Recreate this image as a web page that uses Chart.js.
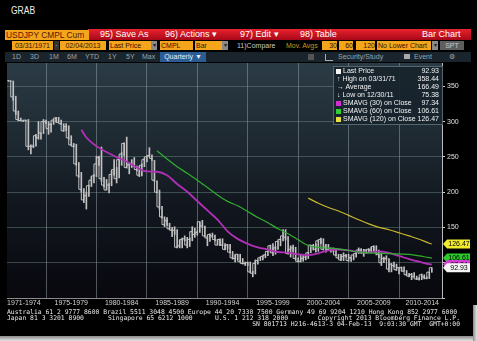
<!DOCTYPE html>
<html><head><meta charset="utf-8">
<script src="https://cdn.jsdelivr.net/npm/chart.js@4.4.1/dist/chart.umd.min.js"></script>
<style>
html,body{margin:0;padding:0;background:#000;width:477px;height:341px;overflow:hidden;}
#wrap{position:relative;width:477px;height:341px;background:#000;font-family:'Liberation Sans',Arial,sans-serif;overflow:hidden;}
.a{position:absolute;white-space:nowrap;}
.ob{position:absolute;top:41px;background:#f5a51c;color:#3a1000;font-size:7px;line-height:9px;height:9px;text-align:center;white-space:nowrap;overflow:hidden;}
.gb{position:absolute;top:41px;background:#8a8a8a;color:#222;font-size:6px;line-height:9px;height:9px;text-align:center;}
.rt{position:absolute;color:#fff;font-size:9px;line-height:11px;top:29px;white-space:nowrap;}
.r3{position:absolute;color:#9aa4aa;font-size:7px;line-height:10px;top:52px;white-space:nowrap;}
.ft{position:absolute;font-family:'DejaVu Sans Mono',monospace;font-size:6.4px;line-height:7px;color:#e6e6e6;white-space:pre;}
#legend{position:absolute;left:333px;top:66px;width:108px;height:57px;background:rgba(24,36,44,0.93);border:1px solid #56646c;}
.lr{position:absolute;left:0;width:106px;height:8px;font-size:7px;line-height:8px;color:#f2f2f2;white-space:nowrap;}
.lr .sq{position:absolute;left:2px;top:1.5px;width:5px;height:5px;}
.lr .lb{position:absolute;left:9px;}
.lr .v{position:absolute;right:1px;}
canvas{position:absolute;left:0;top:62px;}
</style></head><body>
<div id="wrap">
  <div class="a" style="left:11px;top:5px;font-size:10px;color:#eee;transform:scaleX(.85);transform-origin:left;">GRAB</div>

  <div class="a" style="left:88px;top:29px;width:383px;height:11px;background:linear-gradient(#e8222c,#a80818);"></div>
  <div class="a" style="left:5px;top:30px;width:83px;height:10px;background:#f5a51c;color:#5a1800;font-size:8.4px;line-height:10px;padding-left:1px;overflow:hidden;">USDJPY CMPL Cum</div>
  <div class="rt" style="left:100px;">95) Save As</div>
  <div class="rt" style="left:165px;">96) Actions ▾</div>
  <div class="rt" style="left:240px;">97) Edit ▾</div>
  <div class="rt" style="left:300px;">98) Table</div>
  <div class="rt" style="left:422px;">Bar Chart</div>

  <div class="ob" style="left:12px;width:41px;">03/31/1971</div>
  <div class="a" style="left:54px;top:41px;width:5px;height:9px;background:#333;color:#bbb;font-size:6px;line-height:9px;text-align:center;">-</div>
  <div class="ob" style="left:60px;width:46px;">02/04/2013</div>
  <div class="ob" style="left:109px;width:41px;text-align:left;padding-left:1px;">Last Price</div>
  <div class="gb" style="left:151px;width:6px;">▾</div>
  <div class="ob" style="left:160px;width:32px;text-align:left;padding-left:1px;">CMPL</div>
  <div class="ob" style="left:195px;width:26px;text-align:left;padding-left:1px;">Bar</div>
  <div class="gb" style="left:222px;width:6px;">▾</div>
  <div class="a" style="left:237px;top:41px;font-size:7px;line-height:9px;color:#c8c8c8;">11)Compare</div>
  <div class="a" style="left:286px;top:41px;font-size:7px;line-height:9px;color:#c8961e;">Mov. Avgs</div>
  <div class="ob" style="left:322px;width:15px;text-align:right;">30</div>
  <div class="ob" style="left:339px;width:14px;text-align:right;">60</div>
  <div class="ob" style="left:356px;width:19px;text-align:right;">120</div>
  <div class="ob" style="left:377px;width:53px;text-align:left;padding-left:1px;">No Lower Chart</div>
  <div class="gb" style="left:432px;width:6px;">▾</div>
  <div class="gb" style="left:440px;width:24px;background:#5e5e5e;color:#c8c8c8;font-size:7px;">SPT</div>

  <div class="a" style="left:5px;top:52px;width:466px;height:10px;background:#1a242c;"></div>
  <div class="r3" style="left:12px;">1D</div>
  <div class="r3" style="left:30px;">3D</div>
  <div class="r3" style="left:49px;">1M</div>
  <div class="r3" style="left:67px;">6M</div>
  <div class="r3" style="left:85px;">YTD</div>
  <div class="r3" style="left:108px;">1Y</div>
  <div class="r3" style="left:126px;">5Y</div>
  <div class="r3" style="left:142px;">Max</div>
  <div class="a" style="left:160px;top:52px;width:46px;height:10px;background:#2b5c94;color:#e6eefc;font-size:7px;line-height:10px;text-align:center;">Quarterly ▼</div>
  <div class="a" style="left:308px;top:54px;width:6px;height:6px;background:#555;"></div>
  <div class="a" style="left:325px;top:54px;width:7px;height:6px;border-left:1px solid #aaa;border-bottom:1px solid #aaa;"></div>
  <div class="r3" style="left:338px;">Security/Study</div>
  <div class="a" style="left:404px;top:54px;width:6px;height:5px;background:#aaa;"></div>
  <div class="r3" style="left:414px;">Event</div>
  <div class="r3" style="left:449px;">⚙</div>

  <canvas id="c" width="477" height="250"></canvas>

  <div id="legend">
    <div class="lr" style="top:0px;"><span class="sq" style="background:#f4f4f4;"></span><span class="lb">Last Price</span><span class="v">92.93</span></div>
    <div class="lr" style="top:8px;"><span class="lb" style="left:3px;">↑ High on 03/31/71</span><span class="v">358.44</span></div>
    <div class="lr" style="top:16px;"><span class="lb" style="left:3px;">→ Average</span><span class="v">166.49</span></div>
    <div class="lr" style="top:24px;"><span class="lb" style="left:3px;">↓ Low on 12/30/11</span><span class="v">75.38</span></div>
    <div class="lr" style="top:32px;"><span class="sq" style="background:#d030d0;"></span><span class="lb">SMAVG (30) on Close</span><span class="v">97.34</span></div>
    <div class="lr" style="top:40px;"><span class="sq" style="background:#30d030;"></span><span class="lb">SMAVG (60) on Close</span><span class="v">106.61</span></div>
    <div class="lr" style="top:48px;"><span class="sq" style="background:#e8e040;"></span><span class="lb">SMAVG (120) on Close</span><span class="v">126.47</span></div>
  </div>

  <div class="ft" style="left:7px;top:308.5px;">Australia 61 2 9777 8600 Brazil 5511 3048 4500 Europe 44 20 7330 7500 Germany 49 69 9204 1210 Hong Kong 852 2977 6000</div>
  <div class="ft" style="left:7px;top:315px;">Japan 81 3 3201 8900</div>
  <div class="ft" style="left:108px;top:315px;">Singapore 65 6212 1000</div>
  <div class="ft" style="left:215px;top:315px;">U.S. 1 212 318 2000</div>
  <div class="ft" style="right:17px;top:315px;">Copyright 2013 Bloomberg Finance L.P.</div>
  <div class="ft" style="right:17px;top:321px;">SN 801713 H216-4613-3 04-Feb-13  9:03:30 GMT  GMT+0:00</div>

  <div class="a" style="left:0;top:336px;width:477px;height:5px;background:linear-gradient(#8a8a8a,#e4e4e4);"></div>
  <div class="a" style="left:473px;top:305px;width:4px;height:36px;background:linear-gradient(90deg,#8a8a8a,#e4e4e4);"></div>
</div>
<script>
// USD/JPY quarterly bars, 1971 Q1 .. 2013 Q1
const firstYear = 1971;
const highs = [
  358.44,358,357.5,336,  315,305,302,302,  303,267,267,282,  300,284,303,302,
  300,297,303,306,  306,302,297,297,  294,280,269,268,  242,228,205,200,
  210,222,225,251,  251,264,221,218,  212,230,246,235,  248,256,270,278,
  242,246,249,237,  236,240,248,251,  263,253,245,216,  203,180,165,164,
  156,150,151,147,  132,135,138,136,  135,151,149,145,  158,160,152,138,
  141,142,139,133,  134,134,127,126,  126,116,111,112,  112,106,101,101,
  101,88,104,104,  108,110,112,116,  125,127,123,131,  134,147,147,137,
  124,125,122,107,  112,110,110,115,  125,126,127,132,  135,134,126,126,
  121,121,120,112,  112,114,112,112,  108,111,114,121,  120,119,118,120,
  122,124,124,118,  114,108,110,106,  99,101,98,93,  94,94,89,85,
  85,86,81,79,  84,83,80,86.6,  93
];
const lows = [
  357.5,357,330,310,  301,301,300,301,  260,254,263,265,  275,275,283,297,
  282,285,296,299,  299,296,286,287,  275,266,264,238,  221,200,185,176,
  194,208,213,222,  238,215,207,203,  199,209,224,213,  220,238,252,234,
  226,235,236,230,  222,223,236,243,  250,245,215,199,  176,163,151,153,
  147,137,140,121,  121,121,131,121,  123,131,136,139,  143,150,137,124,
  130,136,131,125,  124,124,118,119,  114,105,101,104,  101,98,96,96,
  86,80,84,98,  103,104,107,110,  115,110,112,119,  124,131,132,112,
  108,116,104,101,  101,102,104,106,  114,118,115,116,  127,118,115,118,
  115,115,110,106,  103,103,108,102,  102,104,108,113,  113,109,113,114,
  115,117,111,107,  96,100,104,87,  87,94,89,84,  88,88,82,80,
  76,80,76,75.38,  76,77,77,77.5,  86.5
];
const closes = [
  357.6,357.4,335,315,  303,301.5,301,302,  265,265,265,280,  277,284,300,300,
  290,296,302,305,  299,297,287,293,  277,267,265,240,  223,204,189,195,
  209,217,223,240,  249,219,210,203,  210,225,232,219,  246,254,269,235,
  239,240,237,232,  224,238,246,250,  252,248,217,200,  179,165,154,160,
  148,146,146,122,  124,133,134,125,  133,144,140,143,  158,152,138,135,
  140,138,133,125,  133,125,119,125,  115,107,106,112,  102,99,99,100,
  87,85,99,103,  107,109,111,116,  124,114,121,130,  133,138,136,113,
  119,121,106,102,  102,106,108,114,  125,124,119,131,  133,119,122,119,
  118,120,111,107,  104,109,110,103,  107,111,113,118,  118,114,118,119,
  118,123,115,112,  100,106,106,91,  98,96,90,93,  93,88,83,81,
  83,80,77,77,  82.8,79.8,78,86.6,  92.93
];
// Simple moving averages (date = decimal year)
const sma30Dates = [1978.5,1979,1980,1981,1982,1983,1984,1985,1986,1987,1988,1989,1990,1991,1992,1993,1994,1995,1996,1997,1998,1999,2000,2001,2002,2003,2004,2005,2006,2007,2008,2009,2010,2011,2012,2013,2013.25];
const sma30Values = [288.4,277.4,265.2,256.8,249.5,243.4,234.9,229.4,228.9,223.8,211.5,200.5,187.4,174.1,160.9,144.5,133.8,126.8,121.8,118.7,115.2,114.2,111.9,110.7,113.4,117.5,118.7,117.4,115.0,114.3,116.1,113.8,109.6,105.2,101.4,97.9,97.34];
const sma60Dates = [1986,1987,1988,1989,1990,1991,1992,1993,1994,1995,1996,1997,1998,1999,2000,2001,2002,2003,2004,2005,2006,2007,2008,2009,2010,2011,2012,2013,2013.25];
const sma60Values = [258.7,246.9,236.1,226.8,216.8,206.6,196.0,186.9,180.7,172.5,164.1,156.7,148.1,141.0,132.5,124.4,121.7,120.6,119.6,117.3,115.1,114.0,113.4,112.8,112.4,111.9,109.8,107.1,106.61];
const sma120Dates = [2001,2002,2003,2004,2005,2006,2007,2008,2009,2010,2011,2012,2013,2013.25];
const sma120Values = [191.5,184.3,178.3,173.2,167.1,160.9,155.0,150.1,146.7,142.5,138.0,133.3,127.6,126.47];

const xTickLabels = ['1971-1974','1975-1979','1980-1984','1985-1989','1990-1994','1995-1999','2000-2004','2005-2009','2010-2014'];
const xLabelCenters = [1972.8,1977.5,1982.5,1987.5,1992.5,1997.5,2002.5,2007.5,2012.3];
const gridYears = [1975,1980,1985,1990,1995,2000,2005,2010];
const yTickLabels = [150,200,250,300,350];

const colPrice = '#c2c2c2', col30 = '#b030b8', col60 = '#2fae2f', col120 = '#c8b82a';
const tags = [
  {v: sma120Values[sma120Values.length-1], c: '#f0ec2c'},
  {v: sma60Values[sma60Values.length-1], c: '#2ccc2c'},
  {v: sma30Values[sma30Values.length-1], c: '#d040d0'},
  {v: closes[closes.length-1], c: '#f4f4f4'}
];

const xMin = 1971.13, xMax = 2014.26;
const xq = closes.map((_, i) => firstYear + (i + 1) / 4);
const labelMap = new Map(xLabelCenters.map((v, i) => [v, xTickLabels[i]]));
const xTickVals = [xMin, ...[...gridYears, ...xLabelCenters].sort((a,b)=>a-b), xMax];

const bgPlugin = {id:'bg', beforeDraw(chart){
  const {ctx, chartArea:a} = chart;
  const g = ctx.createLinearGradient(0, a.top, 0, a.bottom);
  g.addColorStop(0, '#2b3b45'); g.addColorStop(0.35, '#1d2830');
  g.addColorStop(0.6, '#12171f'); g.addColorStop(1, '#08080e');
  ctx.save(); ctx.fillStyle = g; ctx.fillRect(a.left, a.top, a.width, a.height); ctx.restore();
}};
const tagPlugin = {id:'tags', afterDraw(chart){
  const {ctx, chartArea, scales:{y}} = chart;
  ctx.save();
  ctx.font = '7px "Liberation Sans", Arial, sans-serif';
  ctx.textAlign = 'center'; ctx.textBaseline = 'middle';
  tags.forEach(t => {
    const py = y.getPixelForValue(t.v);
    const x0 = chartArea.right + 1;
    ctx.fillStyle = t.c;
    ctx.beginPath();
    ctx.moveTo(x0, py); ctx.lineTo(x0+4, py-4.5); ctx.lineTo(x0+27, py-4.5);
    ctx.lineTo(x0+27, py+4.5); ctx.lineTo(x0+4, py+4.5); ctx.closePath(); ctx.fill();
    ctx.fillStyle = '#000';
    ctx.fillText(t.v.toFixed(2), x0 + 16, py + 0.5);
  });
  ctx.restore();
}};

new Chart(document.getElementById('c'), {
  type: 'bar',
  data: {
    datasets: [
      {type:'line', data: sma120Dates.map((d,i)=>({x:d, y:sma120Values[i]})), borderColor: col120, borderWidth: 1.2, pointRadius: 0, cubicInterpolationMode: 'monotone', order: 0},
      {type:'line', data: sma60Dates.map((d,i)=>({x:d, y:sma60Values[i]})), borderColor: col60, borderWidth: 1.2, pointRadius: 0, cubicInterpolationMode: 'monotone', order: 0},
      {type:'line', data: sma30Dates.map((d,i)=>({x:d, y:sma30Values[i]})), borderColor: col30, borderWidth: 1.8, pointRadius: 0, cubicInterpolationMode: 'monotone', order: 0},
      {type:'bar', data: xq.map((x,i)=>({x, y:[lows[i], highs[i]]})), backgroundColor: colPrice, barThickness: 1, grouped: false, order: 2},
      {type:'line', data: xq.map((x,i)=>({x, y:closes[i]})), stepped: 'after', borderColor: colPrice, borderWidth: 1, pointRadius: 0, order: 1}
    ]
  },
  options: {
    responsive: false, animation: false,
    layout: {padding: {left: 7, top: 1, right: 0, bottom: 0}},
    plugins: {legend: {display: false}, tooltip: {enabled: false}},
    scales: {
      x: {
        type: 'linear', min: xMin, max: xMax, offset: false,
        afterBuildTicks: s => { s.ticks = xTickVals.map(v => ({value: v})); },
        afterFit: s => { s.height = 14; s.paddingLeft = 0; s.paddingRight = 0; },
        ticks: {autoSkip: false, maxRotation: 0, color: '#d4d4d4', font: {family: 'Liberation Sans', size: 7}, padding: 1,
                callback: v => labelMap.get(v) || ''},
        grid: {offset: false, drawTicks: false, color: c => gridYears.includes(c.tick && c.tick.value) ? 'rgba(150,162,172,0.5)' : 'rgba(0,0,0,0)'},
        border: {color: '#8a8a8a'}
      },
      y: {
        position: 'right', min: 50, max: 383,
        afterFit: s => { s.width = 35; s.paddingTop = 0; s.paddingBottom = 0; },
        ticks: {stepSize: 50, includeBounds: false, color: '#e0e0e0', font: {family: 'Liberation Sans', size: 7}, padding: 2,
                callback: v => yTickLabels.includes(v) ? String(v) : ''},
        grid: {color: 'rgba(120,150,140,0.42)', tickColor: '#cccccc', tickLength: 3},
        border: {color: '#bbbbbb'}
      }
    }
  },
  plugins: [bgPlugin, tagPlugin]
});
</script>
</body></html>
